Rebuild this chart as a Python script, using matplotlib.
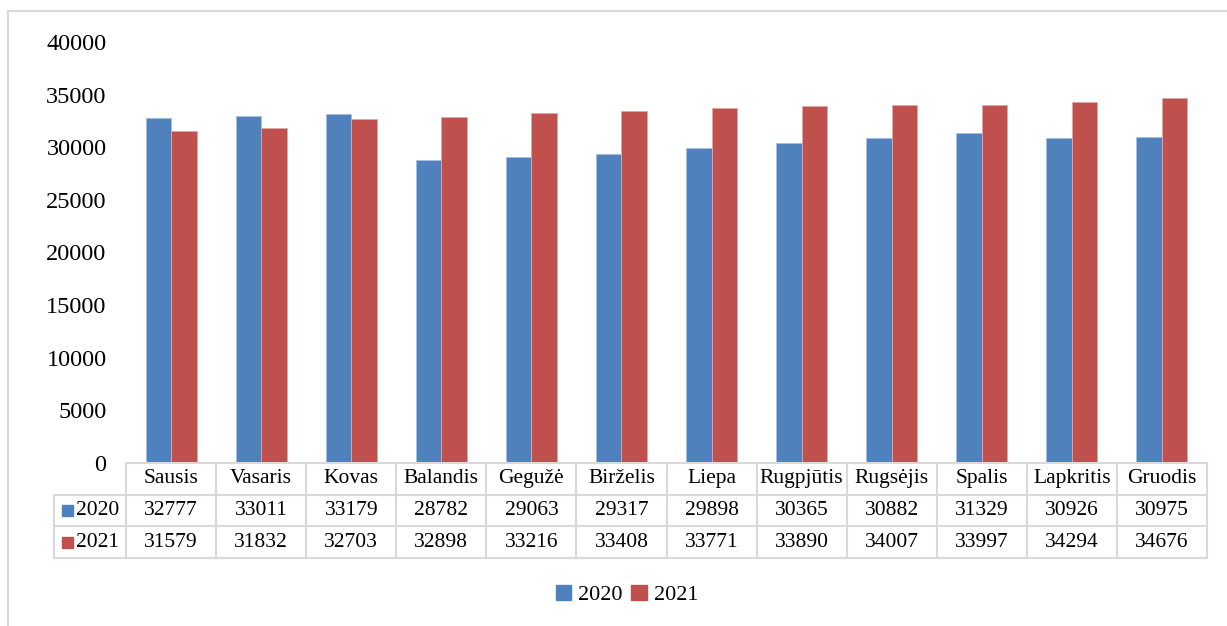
import matplotlib
matplotlib.use("Agg")
from matplotlib import pyplot as plt
from matplotlib.patches import Rectangle, Patch

months = ["Sausis", "Vasaris", "Kovas", "Balandis", "Gegužė", "Birželis",
          "Liepa", "Rugpjūtis", "Rugsėjis", "Spalis", "Lapkritis", "Gruodis"]
values2020 = [32777, 33011, 33179, 28782, 29063, 29317,
              29898, 30365, 30882, 31329, 30926, 30975]
values2021 = [31579, 31832, 32703, 32898, 33216, 33408,
              33771, 33890, 34007, 33997, 34294, 34676]
years = ["2020", "2021"]
yticks = [0, 5000, 10000, 15000, 20000, 25000, 30000, 35000, 40000]

blue = "#4F81BD"
red = "#C0504D"
grid = "#d9d9d9"

plt.rcParams['font.family'] = ['Liberation Serif', 'DejaVu Serif']

W, H = 1227, 626
fig = plt.figure(figsize=(W / 100, H / 100), dpi=100)

# outer border of chart area
fig.add_artist(Rectangle((8 / W, -0.1), 1.2, (H - 11) / H + 0.1,
                         transform=fig.transFigure, fill=False,
                         edgecolor=grid, linewidth=1.5))

left, right = 126, 1207
ax = fig.add_axes([left / W, (H - 463) / H, (right - left) / W, (463 - 42) / H])
x = list(range(len(months)))
bw = 0.283
ax.bar([i - bw / 2 for i in x], values2020, width=bw, color=blue,
       edgecolor="#a7c0de", linewidth=0.6)
ax.bar([i + bw / 2 for i in x], values2021, width=bw, color=red,
       edgecolor="#dfa8a6", linewidth=0.6)
ax.set_xlim(-0.5, len(months) - 0.5)
ax.set_ylim(0, 40000)
ax.set_yticks(yticks)
ax.set_yticklabels([str(v) for v in yticks], fontsize=17.5)
ax.tick_params(axis='y', length=0, pad=14)
ax.set_xticks([])
for s in ax.spines.values():
    s.set_visible(False)

# data table under the chart
tax = fig.add_axes([left / W, (H - 558) / H, (right - left) / W, (558 - 463) / H])
tax.set_xlim(-0.5, len(months) - 0.5)
tax.set_ylim(3, 0)
tax.axis('off')
cat_px = (right - left) / len(months)
xlab = -0.5 - (left - 54) / cat_px
lw = 1.5
fs = 15.5
# horizontal lines
tax.plot([-0.5, len(months) - 0.5], [0, 0], color=grid, lw=lw, clip_on=False)
for r in [1, 2, 3]:
    tax.plot([xlab, len(months) - 0.5], [r, r], color=grid, lw=lw, clip_on=False)
# vertical lines
for i in range(len(months) + 1):
    tax.plot([i - 0.5, i - 0.5], [0, 3], color=grid, lw=lw, clip_on=False)
tax.plot([xlab, xlab], [1, 3], color=grid, lw=lw, clip_on=False)

for i, m in enumerate(months):
    tax.text(i, 0.5, m, ha='center', va='center', fontsize=fs)
    tax.text(i, 1.5, str(values2020[i]), ha='center', va='center', fontsize=fs)
    tax.text(i, 2.5, str(values2021[i]), ha='center', va='center', fontsize=fs)

sq = 11 / cat_px
for r, (yr, c) in enumerate(zip(years, [blue, red])):
    tax.add_patch(Rectangle((xlab + 8 / cat_px, r + 1.5 - 0.17), sq, 0.34,
                            color=c, clip_on=False))
    tax.text(xlab + 22 / cat_px, r + 1.5, yr, ha='left', va='center',
             fontsize=fs, clip_on=False)

handles = [Patch(color=blue), Patch(color=red)]
fig.legend(handles, years, loc='center', bbox_to_anchor=(627 / W, (H - 595) / H),
           ncol=2, frameon=False, fontsize=16, handlelength=0.7,
           handleheight=0.7, handletextpad=0.3, columnspacing=0.4)

fig.savefig("out.png", dpi=100)
